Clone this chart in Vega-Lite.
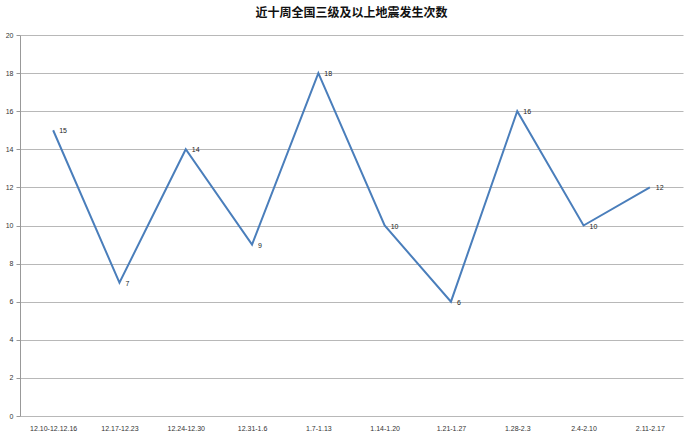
{
  "$schema": "https://vega.github.io/schema/vega-lite/v6.json",
  "autosize": "none",
  "width": 663,
  "height": 381,
  "padding": {"left": 20, "top": 35, "right": 7, "bottom": 20},
  "background": "white",
  "title": {
    "text": "近十周全国三级及以上地震发生次数",
    "font": "Noto Sans CJK SC",
    "fontSize": 12,
    "fontWeight": "bold",
    "color": "#111",
    "anchor": "middle",
    "offset": 11
  },
  "data": {
    "values": [
      {"week": "12.10-12.12.16", "count": 15},
      {"week": "12.17-12.23", "count": 7},
      {"week": "12.24-12.30", "count": 14},
      {"week": "12.31-1.6", "count": 9},
      {"week": "1.7-1.13", "count": 18},
      {"week": "1.14-1.20", "count": 10},
      {"week": "1.21-1.27", "count": 6},
      {"week": "1.28-2.3", "count": 16},
      {"week": "2.4-2.10", "count": 10},
      {"week": "2.11-2.17", "count": 12}
    ]
  },
  "encoding": {
    "x": {
      "field": "week",
      "type": "ordinal",
      "sort": null,
      "scale": {"type": "point", "padding": 0.5},
      "title": null,
      "axis": {
        "labelAngle": 0,
        "labelFontSize": 7,
        "labelColor": "#333",
        "labelFont": "Liberation Sans",
        "domain": false,
        "ticks": false,
        "labelPadding": 8
      }
    },
    "y": {
      "field": "count",
      "type": "quantitative",
      "scale": {"domain": [0, 20]},
      "title": null,
      "axis": {
        "values": [0, 2, 4, 6, 8, 10, 12, 14, 16, 18, 20],
        "labelFontSize": 7,
        "labelColor": "#333",
        "labelFont": "Liberation Sans",
        "gridColor": "#b8b8b8",
        "gridWidth": 1,
        "domainColor": "#999",
        "tickColor": "#999",
        "tickSize": 4,
        "labelPadding": 3
      }
    }
  },
  "layer": [
    {
      "mark": {"type": "line", "color": "#4a7ebb", "strokeWidth": 2}
    },
    {
      "mark": {"type": "text", "align": "left", "dx": 6, "dy": 1, "fontSize": 7, "font": "Liberation Sans", "color": "#222"},
      "encoding": {"text": {"field": "count", "type": "quantitative"}}
    }
  ],
  "config": {"view": {"stroke": null}}
}
